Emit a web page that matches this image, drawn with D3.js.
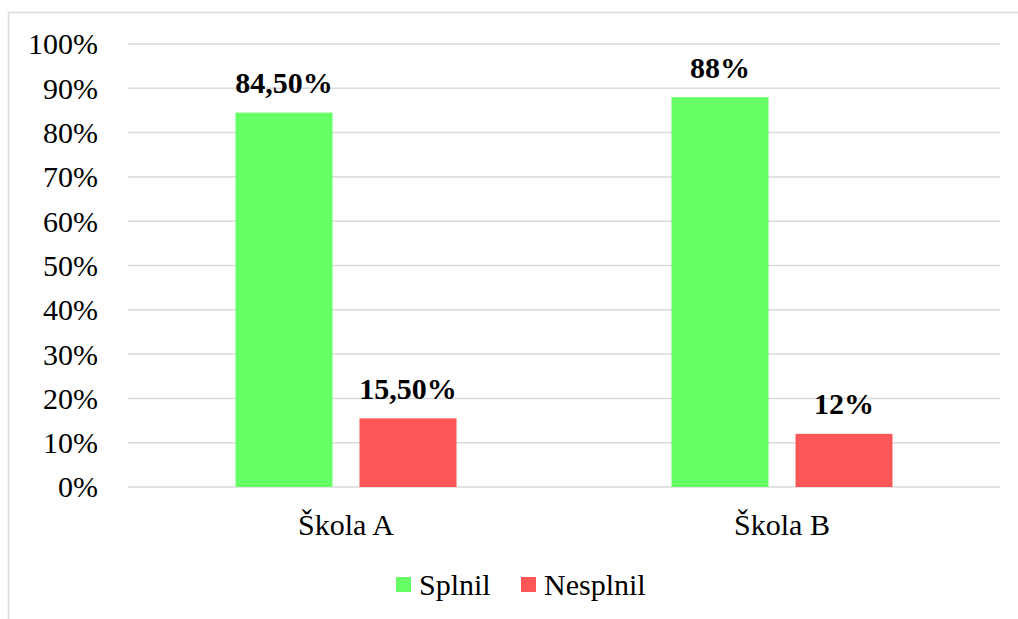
<!DOCTYPE html>
<html><head><meta charset="utf-8">
<script src="https://cdn.jsdelivr.net/npm/d3@7"></script>
<style>body{margin:0;background:#fff}svg{display:block}</style>
</head><body><svg id="c" width="1018" height="619"></svg>
<script>
const categories = ["Škola A", "Škola B"];
const seriesNames = ["Splnil", "Nesplnil"];
const splnil = [84.5, 88];
const nesplnil = [15.5, 12];
const valueLabels = [["84,50%", "15,50%"], ["88%", "12%"]];
const yTicks = [0,10,20,30,40,50,60,70,80,90,100];
const colors = ["#66FF66", "#FF5757"];

const FONT = "Liberation Serif";
const svg = d3.select("#c");
svg.append("rect").attr("x",8.5).attr("y",12.5).attr("width",1100).attr("height",700)
  .attr("fill","#fff").attr("stroke","#d9d9d9").attr("stroke-width",1.5);

const m = {l:128, r:1000, t:44, b:487};
const x0 = d3.scaleBand().domain(categories).range([m.l, m.r]);
const x1 = d3.scaleBand().domain(seriesNames).range([0, 221]).paddingInner(27/124);
const y = d3.scaleLinear().domain([0,100]).range([m.b, m.t]);

svg.append("g").selectAll("line").data(yTicks).join("line")
  .attr("x1",m.l).attr("x2",m.r).attr("y1",d=>y(d)).attr("y2",d=>y(d))
  .attr("stroke","#d9d9d9").attr("stroke-width",1.5);

const yAxis = d3.axisLeft(y).tickValues(yTicks).tickFormat(d=>d+"%").tickSize(0).tickPadding(0);
const ya = svg.append("g").attr("transform","translate(98,0)").call(yAxis)
  .attr("font-family",FONT).attr("font-size",30);
ya.select(".domain").remove();
ya.selectAll("text").style("font-family",FONT).style("font-size","30px").attr("fill","#000").attr("dy","0.33em");

const data = categories.map((c,i)=>({cat:c, vals:[splnil[i], nesplnil[i]], labels:valueLabels[i]}));
const grp = svg.selectAll("g.cat").data(data).join("g").attr("class","cat")
  .attr("transform",d=>`translate(${x0(d.cat)+(x0.bandwidth()-221)/2},0)`);
grp.selectAll("rect").data(d=>d.vals.map((v,j)=>({s:seriesNames[j],v,j}))).join("rect")
  .attr("x",d=>x1(d.s)).attr("width",x1.bandwidth())
  .attr("y",d=>y(d.v)).attr("height",d=>y(0)-y(d.v))
  .attr("fill",d=>colors[d.j]);
grp.selectAll("text").data(d=>d.vals.map((v,j)=>({s:seriesNames[j],v,lab:d.labels[j]}))).join("text")
  .attr("x",d=>x1(d.s)+x1.bandwidth()/2).attr("y",d=>y(d.v)-19.5)
  .attr("text-anchor","middle")
  .style("font-family",FONT).style("font-size","30px").style("font-weight","bold")
  .text(d=>d.lab);

const xAxis = d3.axisBottom(x0).tickSize(0).tickPadding(0);
const xa = svg.append("g").attr("transform",`translate(0,${m.b})`).call(xAxis)
  .attr("font-family",FONT).attr("font-size",30);
xa.select(".domain").remove();
xa.selectAll("text").style("font-family",FONT).style("font-size","30px").attr("fill","#000").attr("dy","0").attr("y",48);

const leg = svg.append("g");
const legX = [396, 521];
seriesNames.forEach((s,i)=>{
  leg.append("rect").attr("x",legX[i]).attr("y",577).attr("width",15).attr("height",15).attr("fill",colors[i]);
  leg.append("text").attr("x",legX[i]+23).attr("y",595)
    .style("font-family",FONT).style("font-size","30px").text(s);
});
</script></body></html>
